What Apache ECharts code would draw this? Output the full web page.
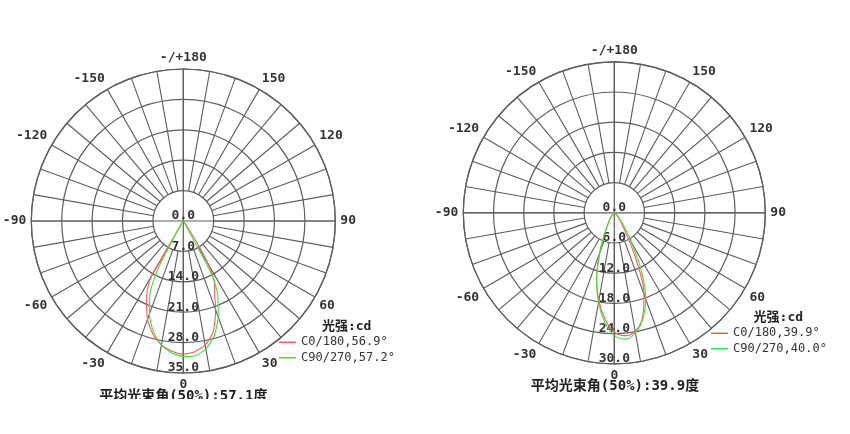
<!DOCTYPE html>
<html><head><meta charset="utf-8">
<script src="https://cdn.jsdelivr.net/npm/echarts@6/dist/echarts.min.js"></script>
<style>
html,body{margin:0;padding:0;background:#fff;width:850px;height:434px;overflow:hidden}
#c1{position:absolute;left:0;top:0;width:425px;height:399px}
#c2{position:absolute;left:425px;top:0;width:425px;height:434px}
</style></head><body>
<div id="c1"></div><div id="c2"></div>
<script>
// ---- tick labels ----
const angleTickLabels = ['0','30','60','90','120','150','-/+180','-150','-120','-90','-60','-30'];
const radiusLabels1 = ['0.0','7.0','14.0','21.0','28.0','35.0'];
const radiusLabels2 = ['0.0','6.0','12.0','18.0','24.0','30.0'];

// ---- chart 1 (left) data: gamma angle (deg), intensity (cd) ----
const c0Angles1  = [-90,-45,-35,-31,-30,-28,-25,-20,-15,-10,-5,0,5,10,15,20,23,27,30,32,35,40,45,90];
const c0Values1  = [0,0.1,0.4,2.5,14.8,17.4,20.0,24.1,27.0,29.0,30.1,30.7,30.2,29.0,26.5,21.8,18.5,15.7,11.5,6.5,1.5,0.4,0.1,0];
const c90Angles1 = [-90,-45,-35,-31,-28,-25,-20,-15,-10,-5,0,5,10,15,20,25,28,30,35,45,90];
const c90Values1 = [0,0.1,0.3,3.0,12.3,18.0,22.8,26.5,29.0,30.5,31.2,31.2,29.9,27.4,23.5,18.7,14.3,1.0,0.3,0.1,0];

// ---- chart 2 (right) data ----
const angles2    = [-90,-60,-45,-40,-35,-30,-25,-20,-15,-10,-5,0,5,10,15,20,25,30,35,40,45,60,90];
const c0Values2  = [0,0.2,0.5,0.8,1.4,2.3,4.4,8.6,13.6,17.7,21.2,23.7,24.5,23.9,21.6,17.3,10.2,4.6,2.3,1.2,0.7,0.2,0];
const c90Values2 = [0,0.2,0.5,0.9,1.5,2.4,4.5,8.4,13.6,18.1,21.8,24.4,25.2,24.2,21.9,18.3,12.7,6.8,3.5,1.8,1.0,0.3,0];

const names1 = ['C0/180,56.9°','C90/270,57.2°'];
const names2 = ['C0/180,39.9°','C90/270,40.0°'];
const beamTitle1 = '平均光束角(50%):57.1度';
const beamTitle2 = '平均光束角(50%):39.9度';
const unitText = '光强:cd';

const RED = '#ff5a5a', GREEN = '#44dd44';
const MONO = '"DejaVu Sans Mono", "Noto Sans CJK SC", monospace';
const GRID = '#5c5c5c';

function toPolar(angles, values) {
  return angles.map((a, i) => [values[i], a < 0 ? a + 360 : a]);
}

function buildOption(cfg) {
  const inner = cfg.R * cfg.rStep / cfg.rMax;
  return {
    animation: false,
    polar: [
      {center: [cfg.cx, cfg.cy], radius: [0, cfg.R]},
      {center: [cfg.cx, cfg.cy], radius: [inner, cfg.R]}
    ],
    angleAxis: [
      {polarIndex: 0, type: 'value', min: 0, max: 360, interval: 90, startAngle: 270, clockwise: false,
       axisLine: {show: true, lineStyle: {color: GRID, width: 1.2}},
       axisTick: {show: false}, axisLabel: {show: false},
       splitLine: {show: true, lineStyle: {color: GRID, width: 1.2}}},
      {polarIndex: 1, type: 'value', min: 0, max: 360, interval: 10, startAngle: 270, clockwise: false,
       axisLine: {show: false}, axisTick: {show: false},
       axisLabel: {show: true, margin: 5, fontSize: 13, fontWeight: 'bold', fontFamily: MONO, color: '#333',
         formatter: v => (v % 30 === 0 && v < 360) ? angleTickLabels[v / 30] : ''},
       splitLine: {show: true, lineStyle: {color: GRID, width: 1.1}}}
    ],
    radiusAxis: [
      {polarIndex: 0, type: 'value', min: 0, max: cfg.rMax, interval: cfg.rStep,
       axisLine: {show: false}, axisTick: {show: false},
       splitLine: {show: true, lineStyle: {color: GRID, width: 1.2}},
       axisLabel: {show: true, margin: 0, align: 'center', verticalAlign: 'bottom', lineHeight: 10,
         fontSize: 13, fontWeight: 'bold', fontFamily: MONO, color: '#333', showMinLabel: true, showMaxLabel: true,
         formatter: v => cfg.rLabels[Math.round(v / cfg.rStep)]}},
      {polarIndex: 1, type: 'value', min: 0, max: 1, show: false}
    ],
    legend: {
      orient: 'vertical', left: cfg.legendX, top: cfg.legendY, padding: 0,
      itemWidth: 17, itemHeight: 1.5, itemGap: 3.5, icon: 'rect', selectedMode: false,
      textStyle: {fontSize: 12, fontFamily: MONO, color: '#333', lineHeight: 12},
      data: cfg.names
    },
    graphic: [
      {type: 'text', x: cfg.unitX, y: cfg.unitY,
       style: {text: unitText, font: 'bold 13px ' + MONO, fill: '#222', align: 'center', verticalAlign: 'middle'}},
      {type: 'text', x: cfg.titleX, y: cfg.titleY,
       style: {text: cfg.title, font: 'bold 14px ' + MONO, fill: '#222', align: 'center', verticalAlign: 'middle'}}
    ],
    series: [
      {name: cfg.names[0], type: 'line', coordinateSystem: 'polar', polarIndex: 0,
       data: toPolar(cfg.a0, cfg.v0), showSymbol: false, smooth: cfg.smooth,
       lineStyle: {color: RED, width: 1.1}, itemStyle: {color: RED}, z: 5},
      {name: cfg.names[1], type: 'line', coordinateSystem: 'polar', polarIndex: 0,
       data: toPolar(cfg.a90, cfg.v90), showSymbol: false, smooth: cfg.smooth,
       lineStyle: {color: GREEN, width: 1.1}, itemStyle: {color: GREEN}, z: 6}
    ]
  };
}

const chart1 = echarts.init(document.getElementById('c1'), null, {renderer: 'canvas'});
chart1.setOption(buildOption({
  cx: 183.3, cy: 221, R: 152, rMax: 35, rStep: 7, rLabels: radiusLabels1,
  a0: c0Angles1, v0: c0Values1, a90: c90Angles1, v90: c90Values1, smooth: 0.2,
  names: names1, legendX: 279, legendY: 336.3, unitX: 346.7, unitY: 326.7,
  title: beamTitle1, titleX: 183.3, titleY: 396
}));

const chart2 = echarts.init(document.getElementById('c2'), null, {renderer: 'canvas'});
chart2.setOption(buildOption({
  cx: 189.3, cy: 212.8, R: 151, rMax: 30, rStep: 6, rLabels: radiusLabels2,
  a0: angles2, v0: c0Values2, a90: angles2, v90: c90Values2, smooth: 0.35,
  names: names2, legendX: 286, legendY: 327.3, unitX: 353.3, unitY: 317.3,
  title: beamTitle2, titleX: 190, titleY: 386.7
}));
</script>
</body></html>
